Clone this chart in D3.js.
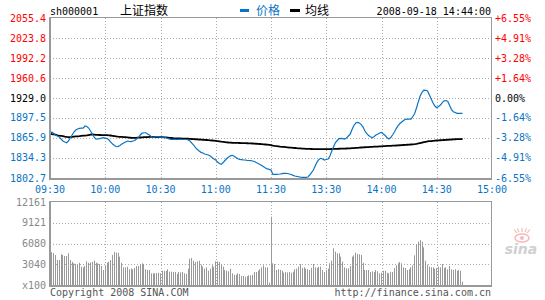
<!DOCTYPE html>
<html><head><meta charset="utf-8">
<script src="https://cdn.jsdelivr.net/npm/d3@7"></script>
<style>
html,body{margin:0;padding:0;background:#fff;}
svg{display:block;}
text{font-family:"DejaVu Sans Mono",monospace;font-size:10px;}
.cjk{font-family:"Noto Sans CJK SC",sans-serif;font-size:12px;}
</style></head>
<body>
<svg id="c" width="545" height="300"></svg>
<script>
const timeTicks = [0,30,60,90,120,150,180,210,240];
const timeLabels = ["09:30","10:00","10:30","11:00","11:30","13:30","14:00","14:30","15:00"];
const priceTicks = [2055.4,2023.8,1992.2,1960.6,1929.0,1897.5,1865.9,1834.3,1802.7];
const pctLabels = ["+6.55%","+4.91%","+3.28%","+1.64%","0.00%","-1.64%","-3.28%","-4.91%","-6.55%"];
const volTicks = [12161,9121,6080,3040,0];
const volLabels = ["12161","9121","6080","3040","x100"];
const prevClose = 1929.0;

const price = [
1872.1,1875.3,1872.9,1870.6,1869.0,1867.4,1864.2,1861.1,1859.5,1858.4,
1861.1,1865.8,1870.6,1875.3,1878.5,1880.0,1881.1,1881.6,1881.6,1884.8,
1884.0,1881.6,1876.9,1872.1,1867.4,1864.2,1864.6,1865.0,1865.8,1866.3,
1865.8,1865.0,1862.7,1859.5,1856.3,1854.0,1852.1,1852.7,1854.0,1856.3,
1857.9,1859.5,1861.1,1860.6,1860.3,1861.1,1861.9,1864.2,1866.6,1870.6,
1873.7,1874.2,1874.2,1872.1,1870.6,1867.9,1867.4,1867.4,1868.2,1867.4,
1867.4,1866.6,1867.4,1866.3,1865.0,1864.2,1863.8,1863.8,1863.8,1863.5,
1863.8,1863.8,1863.5,1863.5,1863.5,1862.7,1861.1,1857.9,1854.8,1850.8,
1847.7,1845.3,1843.2,1842.1,1840.6,1839.8,1839.0,1837.4,1835.0,1832.7,
1831.1,1827.9,1825.6,1824.3,1827.1,1830.3,1833.5,1835.8,1837.7,1838.5,
1836.9,1835.0,1833.1,1831.9,1831.6,1831.1,1831.1,1830.6,1830.3,1830.0,
1829.5,1828.7,1827.1,1825.6,1824.0,1822.4,1820.3,1818.4,1817.2,1816.4,
1815.3,
1808.5,1808.5,1808.5,1808.6,1809.0,1809.6,1810.1,1810.1,1809.8,1809.0,
1808.2,1806.9,1805.8,1805.2,1804.7,1804.2,1803.8,1803.8,1803.8,1804.2,
1807.4,1811.3,1815.3,1821.6,1827.9,1831.9,1833.8,1832.7,1831.1,1831.9,
1832.7,1837.4,1845.3,1852.4,1858.7,1861.9,1865.0,1865.4,1865.0,1864.2,
1865.8,1869.0,1872.1,1879.3,1885.6,1889.5,1890.6,1889.5,1887.1,1883.2,
1876.9,1872.9,1869.8,1867.9,1866.3,1868.2,1870.6,1872.1,1873.7,1874.8,
1872.1,1869.8,1866.6,1864.2,1866.6,1870.6,1875.3,1880.8,1885.3,1888.7,
1891.1,1893.5,1895.4,1895.8,1895.8,1895.8,1899.8,1904.5,1913.2,1923.2,
1932.2,1938.0,1941.6,1941.2,1940.1,1933.7,1927.4,1921.1,1916.4,1913.7,
1915.6,1917.9,1921.9,1924.7,1925.1,1923.5,1917.2,1910.8,1907.4,1906.1,
1904.8,1904.8,1904.8,1904.8
];

const avgPrice = [
1873.2,1872.0,1871.6,1871.2,1870.2,1869.6,1869.3,1869.0,1868.2,1867.6,
1867.3,1867.3,1867.5,1868.0,1868.4,1868.6,1868.8,1869.2,1869.5,1869.7,
1870.0,1870.6,1871.2,1871.4,1871.2,1870.9,1870.7,1870.6,1870.5,1870.5,
1870.4,1870.3,1870.1,1869.8,1869.4,1869.0,1868.5,1868.1,1867.8,1867.6,
1867.4,1867.1,1866.8,1866.5,1866.3,1866.2,1866.2,1866.3,1866.5,1866.7,
1866.9,1867.1,1867.3,1867.4,1867.5,1867.5,1867.5,1867.4,1867.4,1867.4,
1867.3,1867.2,1867.0,1866.8,1866.5,1866.2,1865.9,1865.6,1865.4,1865.3,
1865.2,1865.1,1865.0,1864.9,1864.8,1864.7,1864.5,1864.3,1864.1,1863.9,
1863.7,1863.5,1863.3,1863.1,1862.9,1862.7,1862.5,1862.2,1861.9,1861.6,
1861.2,1860.8,1860.4,1860.0,1859.7,1859.4,1859.1,1858.8,1858.6,1858.4,
1858.3,1858.2,1858.1,1858.0,1857.9,1857.8,1857.7,1857.6,1857.5,1857.4,
1857.2,1857.0,1856.8,1856.6,1856.4,1856.2,1855.9,1855.6,1855.3,1855.0,
1854.6,
1854.0,1853.5,1853.1,1852.7,1852.3,1852.0,1851.7,1851.4,1851.1,1850.8,
1850.6,1850.3,1850.1,1849.8,1849.6,1849.4,1849.2,1849.0,1848.8,1848.7,
1848.6,1848.5,1848.4,1848.3,1848.3,1848.3,1848.3,1848.3,1848.3,1848.3,
1848.4,1848.4,1848.5,1848.6,1848.7,1848.8,1848.9,1849.0,1849.1,1849.2,
1849.3,1849.4,1849.6,1849.8,1850.0,1850.2,1850.4,1850.7,1850.9,1851.1,
1851.3,1851.5,1851.6,1851.8,1851.9,1852.1,1852.3,1852.4,1852.6,1852.8,
1853.0,1853.1,1853.3,1853.4,1853.5,1853.7,1853.8,1854.0,1854.2,1854.4,
1854.6,1854.8,1855.0,1855.2,1855.4,1855.6,1855.8,1856.1,1856.6,1857.2,
1857.9,1858.6,1859.3,1859.9,1860.4,1860.8,1861.1,1861.4,1861.7,1861.9,
1862.1,1862.3,1862.5,1862.7,1862.9,1863.1,1863.3,1863.5,1863.7,1863.9,
1864.0,1864.1,1864.2,1864.3
];

const volume = [
4980,4800,4700,4400,3660,3660,4500,4400,4250,4250,
4650,3660,3400,3180,3100,2980,3270,2680,2600,2800,
3470,3270,3300,3370,3560,3270,3180,3080,2800,2200,
2800,3270,3400,3660,4400,4830,4730,4730,4150,3270,
2590,2590,2680,2300,2400,2300,2490,2780,2780,3080,
3180,3080,2300,2200,2200,1710,1710,1710,1750,1800,
1710,2090,2090,2090,2300,1950,1950,1900,1900,1610,
1900,1850,1900,1710,1610,2390,3850,3950,3560,3370,
3470,3560,2980,2700,2390,2590,2100,2390,2880,2680,
3470,3470,3370,2980,2680,2200,2100,2000,2390,1710,
1500,1500,1710,1610,1320,1320,1220,1300,1420,1420,
1500,1900,1900,2090,2300,2590,2880,2590,2590,350,
10000,
3180,3080,2200,2300,2200,2100,1800,1900,1850,1900,
1800,1950,2300,2400,2700,3080,2490,2590,2390,2300,
2200,2490,3080,2590,2500,2680,2680,2200,1900,2200,
2390,3180,3560,5380,4900,4640,4640,4150,3440,2590,
2440,2440,2780,4150,4350,4730,4540,4500,4400,3270,
2200,2200,2200,1900,2000,1900,2200,2000,1710,1800,
2090,2090,1800,1710,1900,1900,2490,2880,3200,3370,
3180,2590,2490,2200,2300,2590,2880,4350,6000,6350,
6590,6350,5520,3560,2980,2680,2590,2590,2390,2490,
2680,2590,3080,2490,2590,2300,2780,2300,2200,2300,
2090,2200,2090,490
];

const BLUE = "#0a74c4", RED = "#ff0000", GRID = "#aaaaaa", BORDER = "#999999";
const svg = d3.select("#c");

const x = d3.scaleLinear().domain([0,240]).range([50,492]);
const y = d3.scaleLinear().domain([1802.7,2055.4]).range([178,18]);
const yv = d3.scaleLinear().domain([0,12161]).range([285,202]);

function colorFor(v){ return v > prevClose + 0.01 ? RED : (Math.abs(v-prevClose) < 0.01 ? "#000" : BLUE); }

// ---------- main panel grid ----------
const g = svg.append("g");
priceTicks.slice(1,-1).forEach(v=>{
  g.append("line").attr("x1",50).attr("x2",492).attr("y1",Math.round(y(v))+0.5).attr("y2",Math.round(y(v))+0.5)
   .attr("stroke",GRID).attr("stroke-dasharray","1,2");
});
timeTicks.slice(1,-1).forEach(t=>{
  const xx = Math.round(x(t))+0.5;
  g.append("line").attr("x1",xx).attr("x2",xx).attr("y1",18).attr("y2",178).attr("stroke",GRID).attr("stroke-dasharray","1,2");
  g.append("line").attr("x1",xx).attr("x2",xx).attr("y1",202).attr("y2",285).attr("stroke",GRID).attr("stroke-dasharray","1,2");
});
volTicks.slice(1,-1).forEach(v=>{
  g.append("line").attr("x1",50).attr("x2",492).attr("y1",Math.round(yv(v))+0.5).attr("y2",Math.round(yv(v))+0.5)
   .attr("stroke",GRID).attr("stroke-dasharray","1,2");
});

// ---------- volume bars ----------
svg.append("g").selectAll("rect").data(volume).join("rect")
  .attr("x",(d,i)=>Math.floor(x(i)))
  .attr("width",1)
  .attr("y",d=>yv(d))
  .attr("height",d=>285-yv(d))
  .attr("fill","#999999");

// ---------- lines ----------
const lineGen = d3.line().x((d,i)=>x(i)).y(d=>y(d));
svg.append("path").datum(avgPrice).attr("d",lineGen).attr("fill","none").attr("stroke","#000").attr("stroke-width",1.8);
svg.append("path").datum(price).attr("d",lineGen).attr("fill","none").attr("stroke",BLUE).attr("stroke-width",1.2);

// ---------- borders ----------
svg.append("rect").attr("x",50.5).attr("y",17.5).attr("width",441).attr("height",161).attr("fill","none").attr("stroke",BORDER);
svg.append("rect").attr("x",50.5).attr("y",201.5).attr("width",441).attr("height",84).attr("fill","none").attr("stroke",BORDER);
svg.append("line").attr("x1",49.5).attr("x2",49.5).attr("y1",17).attr("y2",180).attr("stroke",BORDER);
svg.append("line").attr("x1",49).attr("x2",492).attr("y1",179.5).attr("y2",179.5).attr("stroke",BORDER);
svg.append("line").attr("x1",49.5).attr("x2",49.5).attr("y1",201).attr("y2",287).attr("stroke",BORDER);
svg.append("line").attr("x1",49).attr("x2",492).attr("y1",286.5).attr("y2",286.5).attr("stroke",BORDER);

// ---------- axis labels ----------
priceTicks.forEach(v=>{
  svg.append("text").attr("x",46).attr("y",y(v)).attr("dy","0.35em").attr("text-anchor","end")
    .attr("fill",colorFor(v)).text(v.toFixed(1));
});
pctLabels.forEach((s,i)=>{
  const v = priceTicks[i];
  svg.append("text").attr("x",495).attr("y",y(v)).attr("dy","0.35em").attr("text-anchor","start")
    .attr("fill",colorFor(v)).text(s);
});
timeTicks.forEach((t,i)=>{
  svg.append("text").attr("x",x(t)).attr("y",189).attr("dy","0.35em").attr("text-anchor","middle")
    .attr("fill",BLUE).text(timeLabels[i]);
});
volTicks.forEach((v,i)=>{
  svg.append("text").attr("x",46).attr("y",yv(v)).attr("dy","0.35em").attr("text-anchor","end")
    .attr("fill","#888").text(volLabels[i]);
});

// ---------- header ----------
svg.append("text").attr("x",50).attr("y",15).attr("fill","#000").text("sh000001");
svg.append("text").attr("class","cjk").attr("x",120).attr("y",15).attr("fill","#000").text("上证指数");
svg.append("rect").attr("x",240).attr("y",9).attr("width",9).attr("height",3).attr("fill",BLUE);
svg.append("text").attr("class","cjk").attr("x",256).attr("y",15).attr("fill",BLUE).text("价格");
svg.append("rect").attr("x",290).attr("y",9).attr("width",10).attr("height",3).attr("fill","#000");
svg.append("text").attr("class","cjk").attr("x",305).attr("y",15).attr("fill","#000").text("均线");
svg.append("text").attr("x",491).attr("y",15).attr("text-anchor","end").attr("fill","#000").text("2008-09-18 14:44:00");

// ---------- footer ----------
svg.append("text").attr("x",50).attr("y",296).attr("fill","#555").text("Copyright 2008 SINA.COM");
svg.append("text").attr("x",491).attr("y",296).attr("text-anchor","end").attr("fill","#555").text("http://finance.sina.com.cn");

// ---------- sina watermark ----------
const wm = svg.append("g").attr("opacity",0.55);
wm.append("ellipse").attr("cx",522).attr("cy",238).attr("rx",7).attr("ry",4).attr("fill","none").attr("stroke","#f08080").attr("stroke-width",1.5);
wm.append("circle").attr("cx",522).attr("cy",238).attr("r",2).attr("fill","#f08080");
[-60,-30,0,30,60].forEach(a=>{
  const r=a*Math.PI/180;
  wm.append("line").attr("x1",522+Math.sin(r)*6).attr("y1",234-Math.cos(r)*2).attr("x2",522+Math.sin(r)*9).attr("y2",231-Math.cos(r)*3)
    .attr("stroke","#f08080").attr("stroke-width",1.2);
});
wm.append("text").attr("x",521).attr("y",254).attr("text-anchor","middle")
  .style("font-family","'DejaVu Sans',sans-serif").style("font-size","14px").style("font-style","italic").style("font-weight","bold")
  .attr("fill","#aaaaaa").text("sina");
</script>
</body></html>
